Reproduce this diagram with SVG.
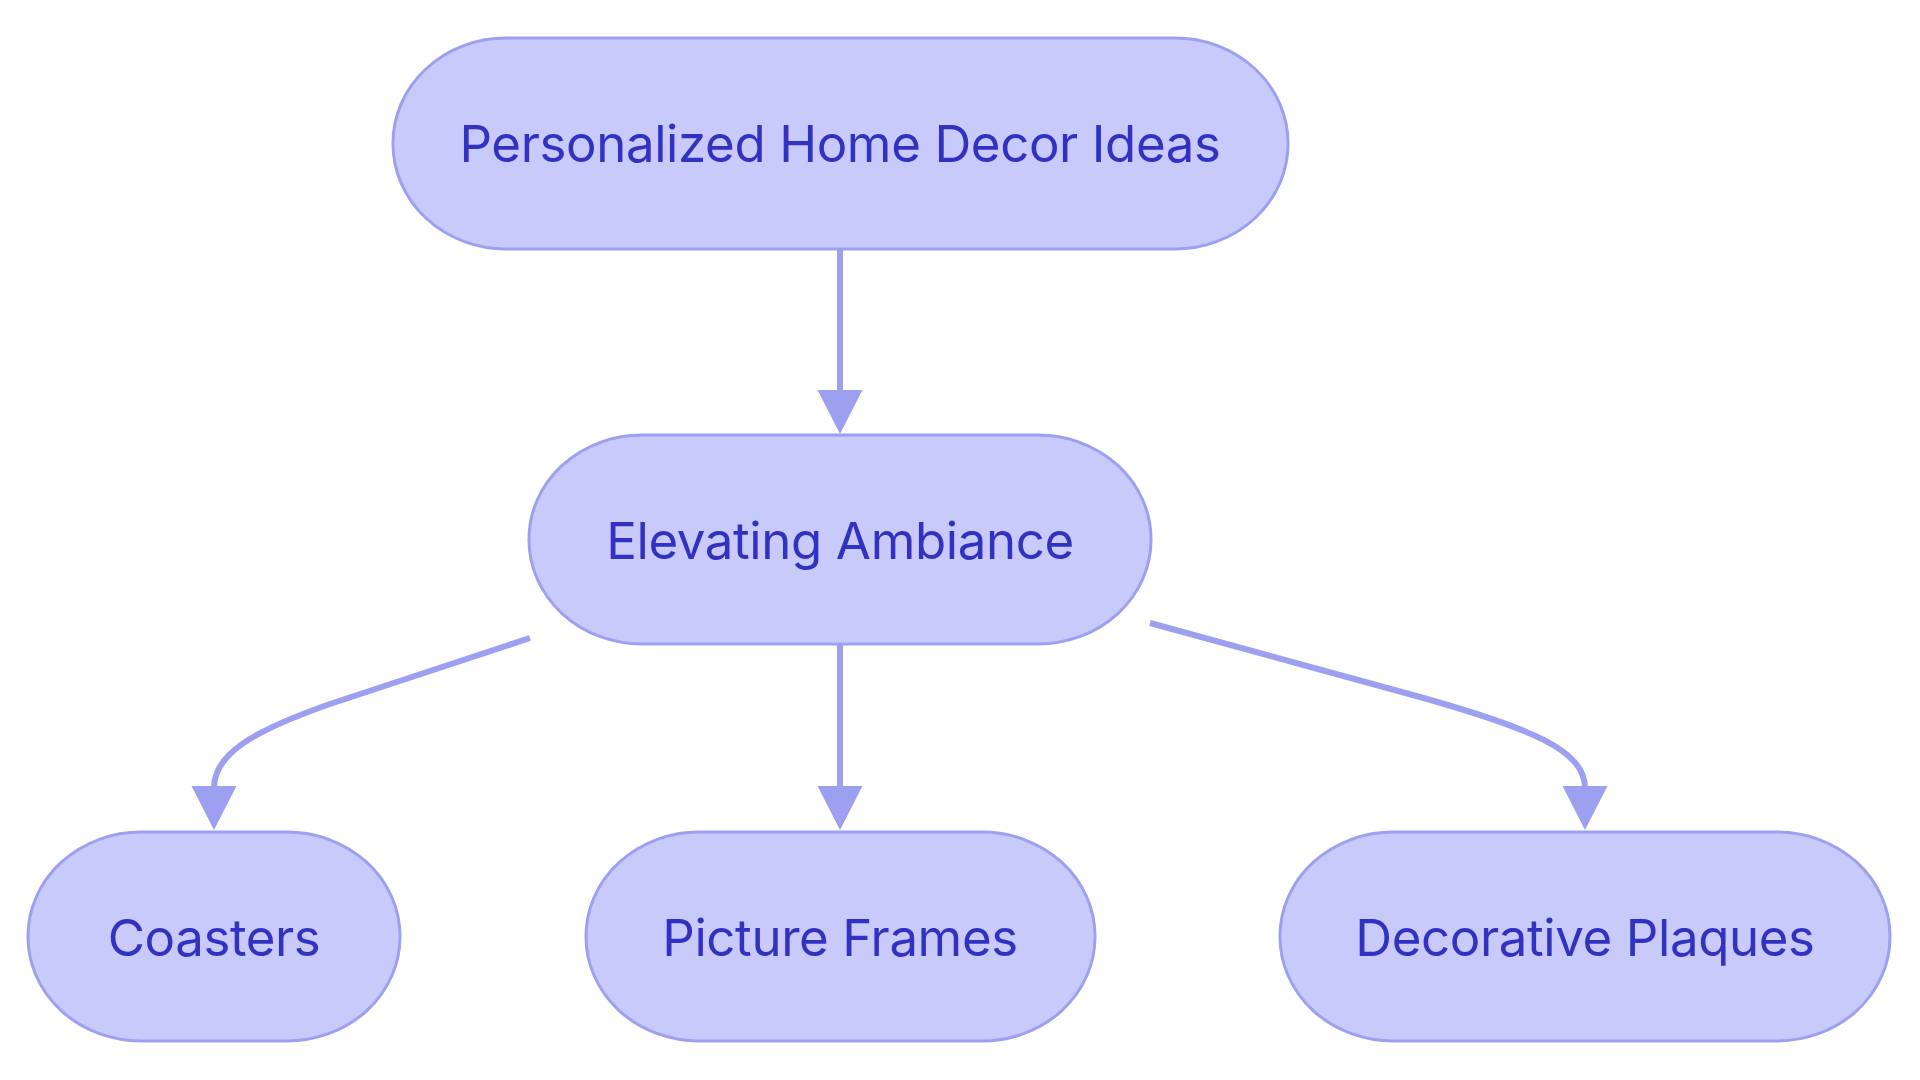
<svg xmlns="http://www.w3.org/2000/svg" width="1920" height="1080" viewBox="0 0 1920 1080">
<style>
.node rect{fill:#c9cafc;stroke:#9d9ff0;stroke-width:3}
.node text{font-family:Inter,"Noto Sans",sans-serif;font-size:51px;letter-spacing:-0.4px;fill:#3232c2;text-anchor:middle}
.edge{fill:none;stroke:#9da0f0;stroke-width:6}
.head{fill:#9da0f0}
</style>
<rect width="1920" height="1080" fill="#ffffff"/>
<g id="connectors">
<path class="edge" d="M840,249 L840,392"/>
<polygon class="head" points="817.5,390 862.5,390 840,434"/>
<path class="edge" d="M530,638 L330,704 C250,732 214,755 214,788"/>
<polygon class="head" points="191.5,786 236.5,786 214,830"/>
<path class="edge" d="M840,644 L840,788"/>
<polygon class="head" points="817.5,786 862.5,786 840,830"/>
<path class="edge" d="M1150,623 L1420,697 C1530,728 1585,750 1585,788"/>
<polygon class="head" points="1562.5,786 1607.5,786 1585,830"/>
</g>
<g id="node-personalized" class="node">
<rect x="393" y="38" width="895" height="211" rx="113" ry="105"/>
<text x="840" y="162">Personalized Home Decor Ideas</text>
</g>
<g id="node-elevating" class="node">
<rect x="529" y="435" width="622" height="209" rx="113" ry="104"/>
<text x="840" y="559">Elevating Ambiance</text>
</g>
<g id="node-coasters" class="node">
<rect x="28" y="832" width="372" height="209" rx="113" ry="104"/>
<text x="214" y="956">Coasters</text>
</g>
<g id="node-frames" class="node">
<rect x="586" y="832" width="509" height="209" rx="113" ry="104"/>
<text x="840" y="956">Picture Frames</text>
</g>
<g id="node-plaques" class="node">
<rect x="1280" y="832" width="610" height="209" rx="113" ry="104"/>
<text x="1585" y="956">Decorative Plaques</text>
</g>
</svg>
